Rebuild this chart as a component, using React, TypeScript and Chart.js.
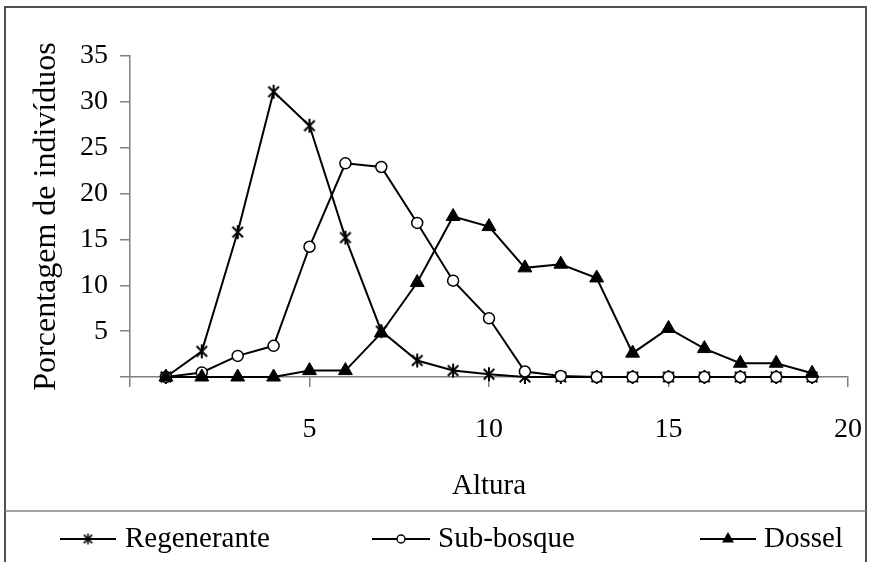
import React, { useEffect, useRef } from 'react';
import { Chart, registerables } from 'chart.js';

Chart.register(...registerables);

// ---- data ----
const heights = [1, 2, 3, 4, 5, 6, 7, 8, 9, 10, 11, 12, 13, 14, 15, 16, 17, 18, 19];
const regenerante = [0, 2.8, 15.8, 31.1, 27.4, 15.2, 5.0, 1.8, 0.7, 0.3, 0, 0, 0, 0, 0, 0, 0, 0, 0];
const subBosque = [0, 0.5, 2.3, 3.4, 14.2, 23.3, 22.9, 16.8, 10.5, 6.4, 0.6, 0.1, 0, 0, 0, 0, 0, 0, 0];
const dossel = [0, 0, 0, 0, 0.7, 0.7, 4.8, 10.3, 17.5, 16.4, 11.9, 12.3, 10.8, 2.6, 5.3, 3.1, 1.5, 1.5, 0.4];
const seriesNames = ['Regenerante', 'Sub-bosque', 'Dossel'];
const xTicks = [0, 5, 10, 15, 20];
const yTicks = [0, 5, 10, 15, 20, 25, 30, 35];
const xTitle = 'Altura';
const yTitle = 'Porcentagem de indivíduos';

const FONT = '"Liberation Serif", "Times New Roman", serif';

function makeAsterisk(size: number, lw: number): HTMLCanvasElement {
  const c = document.createElement('canvas');
  c.width = size;
  c.height = size;
  const g = c.getContext('2d')!;
  g.strokeStyle = '#000';
  g.lineWidth = lw;
  const m = size / 2;
  const r = size / 2 - 1;
  const d = r * 0.75;
  g.beginPath();
  g.moveTo(m - d, m - d);
  g.lineTo(m + d, m + d);
  g.moveTo(m + d, m - d);
  g.lineTo(m - d, m + d);
  g.moveTo(m, m - r);
  g.lineTo(m, m + r);
  g.stroke();
  return c;
}

function drawMarker(ctx: CanvasRenderingContext2D, idx: number, x: number, y: number, star: HTMLCanvasElement) {
  ctx.save();
  if (idx === 0) {
    ctx.drawImage(star, x - star.width / 2, y - star.height / 2);
  } else if (idx === 1) {
    ctx.beginPath();
    ctx.arc(x, y, 4, 0, Math.PI * 2);
    ctx.fillStyle = '#fff';
    ctx.fill();
    ctx.lineWidth = 1.4;
    ctx.strokeStyle = '#000';
    ctx.stroke();
  } else {
    const r = 7;
    ctx.beginPath();
    ctx.moveTo(x, y - r);
    ctx.lineTo(x + r * 0.866, y + r * 0.5);
    ctx.lineTo(x - r * 0.866, y + r * 0.5);
    ctx.closePath();
    ctx.fillStyle = '#000';
    ctx.fill();
  }
  ctx.restore();
}

export default function App() {
  const ref = useRef<HTMLCanvasElement | null>(null);

  useEffect(() => {
    document.body.style.margin = '0';
    const canvas = ref.current!;
    const star = makeAsterisk(16, 2);
    const legendStar = makeAsterisk(13, 1.6);

    const framePlugin = {
      id: 'framePlugin',
      afterDraw(chart: any) {
        const ctx: CanvasRenderingContext2D = chart.ctx;
        const area = chart.chartArea;
        ctx.save();
        // outer frame
        ctx.strokeStyle = '#505050';
        ctx.lineWidth = 2;
        ctx.strokeRect(5, 7, 861, 570);
        // legend separator
        ctx.strokeStyle = '#808080';
        ctx.lineWidth = 1.5;
        ctx.beginPath();
        ctx.moveTo(5, 511);
        ctx.lineTo(866, 511);
        ctx.stroke();

        // axis titles
        ctx.fillStyle = '#000';
        ctx.font = `29px ${FONT}`;
        ctx.textAlign = 'center';
        ctx.textBaseline = 'middle';
        ctx.fillText(xTitle, (area.left + area.right) / 2, 486);
        ctx.save();
        ctx.font = `32px ${FONT}`;
        ctx.translate(47, (area.top + area.bottom) / 2);
        ctx.rotate(-Math.PI / 2);
        ctx.fillText(yTitle, 0, 0);
        ctx.restore();

        // legend
        const items = [
          { lx0: 60, lx1: 116, cx: 88, tx: 125 },
          { lx0: 372, lx1: 430, cx: 401, tx: 438 },
          { lx0: 700, lx1: 756, cx: 728, tx: 764 },
        ];
        const ly = 539;
        ctx.font = `29px ${FONT}`;
        ctx.textAlign = 'left';
        ctx.textBaseline = 'middle';
        items.forEach((it, i) => {
          ctx.strokeStyle = '#000';
          ctx.lineWidth = 1.8;
          ctx.beginPath();
          ctx.moveTo(it.lx0, ly);
          ctx.lineTo(it.lx1, ly);
          ctx.stroke();
          drawMarker(ctx, i, it.cx, ly, legendStar);
          ctx.fillStyle = '#000';
          ctx.fillText(seriesNames[i], it.tx, ly);
        });
        ctx.restore();
      },
    };

    const mk = (vals: number[]) => heights.map((h, i) => ({ x: h, y: vals[i] }));

    const chart = new Chart(canvas, {
      type: 'line',
      data: {
        datasets: [
          {
            label: seriesNames[0],
            data: mk(regenerante),
            borderColor: '#000',
            borderWidth: 2,
            pointStyle: star as any,
            pointRadius: 8,
            order: 3,
            clip: false as any,
          },
          {
            label: seriesNames[1],
            data: mk(subBosque),
            borderColor: '#000',
            borderWidth: 2,
            pointStyle: 'circle',
            pointRadius: 5.5,
            pointBackgroundColor: '#fff',
            pointBorderColor: '#000',
            pointBorderWidth: 1.5,
            order: 2,
            clip: false as any,
          },
          {
            label: seriesNames[2],
            data: mk(dossel),
            borderColor: '#000',
            borderWidth: 2,
            pointStyle: 'triangle',
            pointRadius: 8,
            pointBackgroundColor: '#000',
            pointBorderColor: '#000',
            pointBorderWidth: 1,
            order: 1,
            clip: false as any,
          },
        ],
      },
      options: {
        responsive: false,
        animation: false,
        events: [],
        layout: { padding: { top: 56, right: 24, left: 0, bottom: 0 } },
        plugins: { legend: { display: false }, tooltip: { enabled: false } },
        scales: {
          x: {
            type: 'linear',
            min: 0,
            max: 20,
            afterBuildTicks: (s: any) => {
              s.ticks = xTicks.map((v) => ({ value: v }));
            },
            afterFit: (s: any) => {
              s.height = 185;
              s.paddingRight = 0;
              s.paddingLeft = 0;
            },
            ticks: {
              autoSkip: false,
              maxRotation: 0,
              color: '#000',
              padding: 26,
              font: { family: FONT, size: 28 },
              callback: (v: any) => (v === 0 ? '' : String(v)),
            },
            grid: { drawOnChartArea: false, drawTicks: true, tickLength: 10, color: '#808080', lineWidth: 1.5 },
            border: { display: true, color: '#808080', width: 1.5 },
          },
          y: {
            type: 'linear',
            min: 0,
            max: 35,
            afterBuildTicks: (s: any) => {
              s.ticks = yTicks.map((v) => ({ value: v }));
            },
            afterFit: (s: any) => {
              s.width = 130;
              s.paddingTop = 0;
              s.paddingBottom = 0;
            },
            ticks: {
              autoSkip: false,
              color: '#000',
              padding: 12,
              font: { family: FONT, size: 28 },
              callback: (v: any) => (v === 0 ? '' : String(v)),
            },
            grid: { drawOnChartArea: false, drawTicks: true, tickLength: 10, color: '#808080', lineWidth: 1.5 },
            border: { display: true, color: '#808080', width: 1.5 },
          },
        },
      },
      plugins: [framePlugin],
    });
    return () => chart.destroy();
  }, []);

  return <canvas ref={ref} width={872} height={562} style={{ display: 'block' }} />;
}
